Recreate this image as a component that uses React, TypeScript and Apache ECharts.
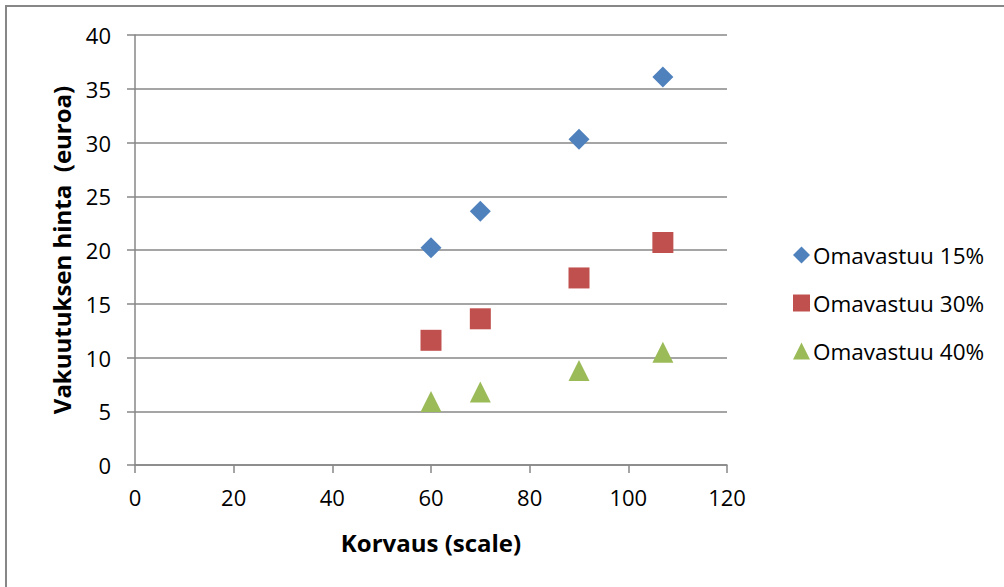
import React, { useEffect, useRef } from "react";
import * as echarts from "echarts";

const korvaus = [60, 70, 90, 107];
const omavastuu15 = [20.2, 23.6, 30.3, 36.1];
const omavastuu30 = [11.6, 13.6, 17.4, 20.7];
const omavastuu40 = [5.9, 6.8, 8.8, 10.5];
const seriesNames = ["Omavastuu 15%", "Omavastuu 30%", "Omavastuu 40%"];
const xTitle = "Korvaus (scale)";
const yTitle = "Vakuutuksen hinta  (euroa)";

const FONT = "'Open Sans', 'Noto Sans', sans-serif";
const GRAY = "#878787";

export default function App() {
  const ref = useRef<HTMLDivElement>(null);
  useEffect(() => {
    if (!ref.current) return;
    const chart = echarts.init(ref.current, undefined, { renderer: "svg" });
    const pairs = (ys: number[]) => korvaus.map((x, i) => [x, ys[i]]);
    chart.setOption({
      animation: false,
      backgroundColor: "#ffffff",
      textStyle: { fontFamily: FONT, color: "#000" },
      grid: { left: 135, right: 277, top: 35, bottom: 122 },
      legend: {
        orient: "vertical",
        left: 788,
        top: 237,
        itemWidth: 17,
        itemHeight: 17,
        itemGap: 22,
        textStyle: { fontFamily: FONT, fontSize: 22.5, color: "#000", lineHeight: 26, padding: [0, 0, 0, -2] },
        data: seriesNames,
      },
      xAxis: {
        type: "value",
        min: 0,
        max: 120,
        interval: 20,
        name: xTitle,
        nameLocation: "middle",
        nameGap: 65,
        nameTextStyle: { fontFamily: FONT, fontSize: 24, fontWeight: "bold", color: "#000" },
        axisLine: { show: true, onZero: false, lineStyle: { color: GRAY, width: 1.5 } },
        axisTick: { show: true, inside: false, length: 8, lineStyle: { color: GRAY, width: 1.5 } },
        axisLabel: { fontFamily: FONT, fontSize: 22, color: "#000", margin: 21 },
        splitLine: { show: false },
      },
      yAxis: {
        type: "value",
        min: 0,
        max: 40,
        interval: 5,
        name: yTitle,
        nameLocation: "middle",
        nameRotate: 90,
        nameGap: 62,
        nameTextStyle: { fontFamily: FONT, fontSize: 24, fontWeight: "bold", color: "#000" },
        axisLine: { show: true, lineStyle: { color: GRAY, width: 1.5 } },
        axisTick: { show: true, inside: false, length: 8, lineStyle: { color: GRAY, width: 1.5 } },
        axisLabel: { fontFamily: FONT, fontSize: 22, color: "#000", margin: 24 },
        splitLine: { show: true, lineStyle: { color: GRAY, width: 1.5 } },
      },
      series: [
        {
          name: seriesNames[0],
          type: "scatter",
          symbol: "diamond",
          symbolSize: 21,
          itemStyle: { color: "#4F81BD", opacity: 1 },
          data: pairs(omavastuu15),
        },
        {
          name: seriesNames[1],
          type: "scatter",
          symbol: "rect",
          symbolSize: 21,
          itemStyle: { color: "#C0504D", opacity: 1 },
          data: pairs(omavastuu30),
        },
        {
          name: seriesNames[2],
          type: "scatter",
          symbol: "triangle",
          symbolSize: 21,
          itemStyle: { color: "#9BBB59", opacity: 1 },
          data: pairs(omavastuu40),
        },
      ],
      graphic: [
        { type: "line", shape: { x1: 5, y1: 6, x2: 1004, y2: 6 }, style: { stroke: GRAY, lineWidth: 2 }, silent: true },
        { type: "line", shape: { x1: 6, y1: 5, x2: 6, y2: 587 }, style: { stroke: GRAY, lineWidth: 2 }, silent: true },
      ],
    });
    return () => chart.dispose();
  }, []);
  return (
    <div
      ref={ref}
      style={{ position: "fixed", left: 0, top: 0, width: 1004, height: 587, background: "#fff" }}
    />
  );
}
